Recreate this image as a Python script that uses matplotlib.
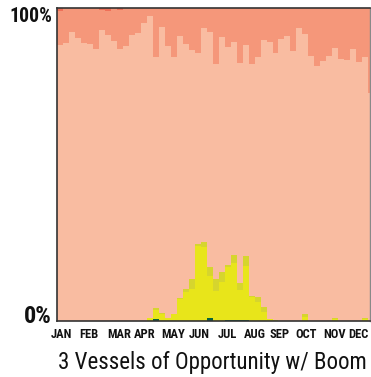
import numpy as np
import matplotlib
matplotlib.use("Agg")
import matplotlib.pyplot as plt
from matplotlib import font_manager

# weekly shares (%), bottom layer first
dark_green = [0, 0, 0, 0, 0, 0, 0, 0, 0, 0, 0, 0, 0, 0, 0, 0, 0.6, 0, 0, 0,
              0, 0, 0, 0, 0, 0.9, 0, 0, 0.2, 0.4, 0.4, 0.3, 0, 0, 0, 0, 0, 0, 0, 0,
              0, 0, 0, 0, 0, 0, 0, 0, 0, 0, 0, 0, 0]
yellow = [0, 0, 0, 0, 0, 0, 0, 0, 0, 0, 0, 0, 0, 0, 0, 0.9, 2.9, 2.2, 0.85, 2.1,
          7.0, 9.2, 10.2, 24.1, 23.7, 13.6, 9.6, 12.6, 17.0, 18.2, 9.6, 17.4, 7.6, 6.2, 3.0, 0.5, 0, 0, 0, 0,
          0, 1.4, 0, 0, 0, 0, 0.5, 0, 0, 0, 0, 0.5, 0]
olive = [0, 0, 0, 0, 0, 0, 0, 0, 0, 0, 0, 0, 0, 0, 0, 0, 0.75, 0.5, 0, 0,
         0.4, 1.1, 3.2, 0.4, 1.6, 2.6, 3.8, 2.9, 0.85, 2.6, 2.3, 3.1, 0.4, 1.6, 1.6, 0, 0.3, 0, 0, 0,
         0, 0.9, 0, 0, 0, 0, 0.4, 0, 0, 0, 0, 0.5, 0]
salmon = [10.7, 11.3, 7.7, 9.5, 11.1, 11.4, 13.0, 6.5, 7.6, 10.4, 12.5, 12.1, 8.6, 8.1, 4.9, 2.5, 15.8, 6.1, 12.0, 15.8,
          8.9, 11.4, 13.4, 14.3, 6.4, 7.7, 17.8, 9.3, 12.4, 10.9, 17.5, 11.8, 17.8, 15.6, 10.2, 10.9, 14.3, 9.8, 8.9, 13.6,
          6.3, 8.3, 15.2, 18.4, 16.9, 15.2, 12.8, 16.2, 16.5, 13.1, 17.2, 15.6, 27.0]
red = [1.0, 0, 0, 0, 0, 0, 0, 0.5, 1.0, 0, 0.5, 0, 0, 0, 0, 0, 0, 0, 0, 0,
       0, 0, 0, 0, 0, 0, 0, 0, 0, 0, 0, 0, 0, 0, 0, 0, 0, 0, 0, 0,
       0, 0, 0, 0, 0, 0, 0, 0, 0, 0, 0, 0, 0]

months = ["JAN", "FEB", "MAR", "APR", "MAY", "JUN", "JUL", "AUG", "SEP", "OCT", "NOV", "DEC"]
month_pos = [4.7, 37.4, 73, 103, 135.7, 166, 199, 231.6, 260.8, 291, 324, 352]
title = "3 Vessels of Opportunity w/ Boom"


def pick_font():
    # narrowest family we can find, else a plain sans
    for name, stretch in [("Liberation Sans Narrow", "normal"),
                          ("DejaVu Sans Condensed", "normal"),
                          ("Roboto Condensed", "normal"),
                          ("Open Sans Condensed", "normal"),
                          ("Noto Sans", "condensed"),
                          ("Open Sans", "condensed")]:
        try:
            path = font_manager.findfont(font_manager.FontProperties(family=name, stretch=stretch),
                                         fallback_to_default=False)
            if "ondens" in path or "arrow" in path:
                return name, stretch
        except Exception:
            pass
    return "Liberation Sans", "normal"


fam, stretch = pick_font()


def fit(txt, width_px, renderer):
    bb = txt.get_window_extent(renderer)
    txt.set_fontsize(txt.get_fontsize() * width_px / bb.width)


light = 100 - (np.array(dark_green) + np.array(yellow) + np.array(olive)
               + np.array(salmon) + np.array(red))

layers = [(dark_green, "#08643c"), (yellow, "#e8e51a"), (olive, "#d6d52e"),
          (light, "#f9bca1"), (salmon, "#f5977a"), (red, "#ef7058")]

days = 366
x = np.arange(53) * 7
w = np.minimum(7, days - x)

fig = plt.figure(figsize=(3.71, 3.77), dpi=100)
ax = fig.add_axes([57 / 371, 56 / 377, 313 / 371, 313 / 377])

bottom = np.zeros(53)
for vals, col in layers:
    vals = np.asarray(vals, dtype=float)
    ax.bar(x, vals, width=w, bottom=bottom, align="edge", color=col,
           linewidth=0, antialiased=False)
    bottom += vals

ax.set_xlim(0, days)
ax.set_ylim(0, 100)
ax.set_yticks([])
ax.set_xticks([])

for s in ["top", "left", "bottom"]:
    ax.spines[s].set_color("#333333")
    ax.spines[s].set_linewidth(1.2)
ax.spines["right"].set_color("#888888")
ax.spines["right"].set_linewidth(1)

trans = ax.get_xaxis_transform()
for m, p in zip(months, month_pos):
    ax.text(p, -7 / 313, m, transform=trans, ha="center", va="top", fontsize=9,
            fontweight="bold", family=fam, fontstretch=stretch, color="#111111")

top_lab = fig.text(52 / 371, 1 - 7 / 377, "100%", ha="right", va="top", fontsize=15,
                   fontweight="bold", family=fam, fontstretch=stretch, color="#111111")
zero_lab = fig.text(52 / 371, 54 / 377, "0%", ha="right", va="baseline", fontsize=15,
                    fontweight="bold", family=fam, fontstretch=stretch, color="#111111")
ttl = fig.text(212 / 371, 8 / 377, title, ha="center", va="baseline", fontsize=18,
               family=fam, fontstretch=stretch, color="#111111")

r = fig.canvas.get_renderer()
fit(ttl, 308, r)
fit(top_lab, 43, r)
fit(zero_lab, 28, r)

fig.savefig("out.png", dpi=100)
